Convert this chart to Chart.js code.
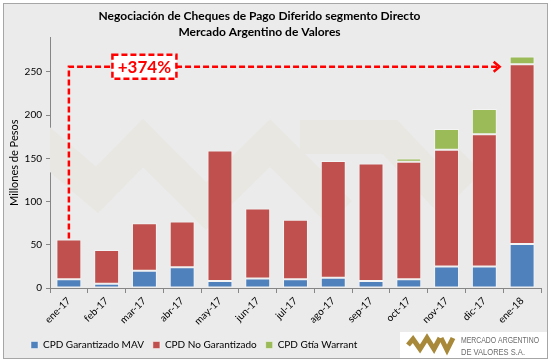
<!DOCTYPE html>
<html>
<head>
<meta charset="utf-8">
<script src="https://cdn.jsdelivr.net/npm/chart.js@4"></script>
<style>
  html, body { margin: 0; padding: 0; background: #fff; }
  canvas { display: block; }
</style>
</head>
<body>
<canvas id="myChart" width="551" height="362"></canvas>
<script>
const categories = ['ene-17', 'feb-17', 'mar-17', 'abr-17', 'may-17', 'jun-17', 'jul-17', 'ago-17', 'sep-17', 'oct-17', 'nov-17', 'dic-17', 'ene-18'];
const garantizadoMAV = [10, 5, 20, 24, 8, 11, 10, 12, 8, 10, 25, 25, 51];
const noGarantizado = [46, 39, 55, 53, 151, 81, 69, 135, 136, 136, 135, 153, 208];
const gtiaWarrant = [null, null, null, null, null, null, null, null, null, 4, 24, 29, 9];
const yTicks = [0, 50, 100, 150, 200, 250];
const variacion = '+374%';

const FONT = 'Lato, "Liberation Sans", sans-serif';

// fondo gris + marco
const bgPlugin = {
	id: 'bg',
	beforeDraw(chart) {
		const c = chart.ctx;
		c.save();
		c.fillStyle = '#fff';
		c.fillRect(0, 0, chart.width, chart.height);
		c.fillStyle = '#ebebeb';
		c.fillRect(3.5, 3.5, chart.width - 7, chart.height - 7);
		c.strokeStyle = '#a6a6a6';
		c.lineWidth = 1;
		c.strokeRect(3.5, 3.5, chart.width - 7, chart.height - 7);
		c.restore();
	},
	afterLayout(chart) {
		chart.legend.left += 14;
		chart.legend.right += 14;
		chart.titleBlock.left -= 15;
		chart.titleBlock.right -= 15;
	},
	// marca de agua (logo tenue)
	beforeDatasetsDraw(chart) {
		const c = chart.ctx, a = chart.chartArea;
		c.save();
		c.beginPath();
		c.rect(a.left, a.top, a.right - a.left, a.bottom - a.top);
		c.clip();
		c.strokeStyle = '#e8e7e2';
		c.lineWidth = 34;
		c.lineJoin = 'miter';
		c.beginPath();
		c.moveTo(20, 124);
		c.lineTo(97, 190);
		c.lineTo(143, 143);
		c.lineTo(206, 206);
		c.lineTo(270, 143);
		c.lineTo(340, 213);
		c.stroke();
		c.beginPath();
		c.moveTo(300, 137);
		c.lineTo(390, 137);
		c.lineTo(440, 190);
		c.lineTo(470, 160);
		c.stroke();
		c.restore();
	}
};

// flecha y recuadro de variación
const annotationPlugin = {
	id: 'variacion',
	afterDatasetsDraw(chart) {
		const c = chart.ctx, xs = chart.scales.x, ys = chart.scales.y;
		const total0 = garantizadoMAV[0] + noGarantizado[0] + (gtiaWarrant[0] || 0);
		const x0 = xs.getPixelForValue(0);
		const y0 = ys.getPixelForValue(total0) - 1;
		const yl = ys.getPixelForValue(256);
		const last = chart.getDatasetMeta(0).data[categories.length - 1];
		const x1 = last.x - last.width / 2 - 10;
		c.save();
		c.strokeStyle = '#ff0000';
		c.lineWidth = 2.5;
		c.setLineDash([6, 3]);
		c.beginPath();
		c.moveTo(x0, y0);
		c.lineTo(x0, yl);
		c.lineTo(x1, yl);
		c.stroke();
		c.setLineDash([]);
		c.beginPath();
		c.moveTo(x1 - 6, yl - 5);
		c.lineTo(x1, yl);
		c.lineTo(x1 - 6, yl + 5);
		c.stroke();
		// recuadro
		const bx = xs.getPixelForValue(2);
		const bw = 64, bh = 24;
		c.fillStyle = '#fff';
		c.fillRect(bx - bw / 2, yl - bh / 2, bw, bh);
		c.setLineDash([6, 3]);
		c.strokeRect(bx - bw / 2, yl - bh / 2, bw, bh);
		c.fillStyle = '#ff0000';
		c.font = 'bold 17px ' + FONT;
		c.textAlign = 'center';
		c.textBaseline = 'middle';
		c.fillText(variacion, bx, yl + 1);
		c.restore();
	},
	afterDraw(chart) {
		// logo MAV
		const c = chart.ctx;
		c.save();
		c.fillStyle = '#fff';
		c.fillRect(400, 332, 147, 26);
		c.strokeStyle = '#a8893a';
		c.lineWidth = 5;
		c.lineJoin = 'miter';
		c.beginPath();
		c.moveTo(408, 345);
		c.lineTo(413, 339);
		c.lineTo(420, 349);
		c.lineTo(427, 338);
		c.lineTo(434, 349);
		c.lineTo(440, 338);
		c.stroke();
		c.beginPath();
		c.moveTo(441, 338);
		c.lineTo(447, 350);
		c.lineTo(453, 338);
		c.stroke();
		c.fillStyle = '#6b6b6b';
		c.font = '9px "Liberation Sans Narrow", "Liberation Sans", sans-serif';
		c.textAlign = 'left';
		c.textBaseline = 'middle';
		c.fillText('MERCADO ARGENTINO', 461, 341, 78);
		c.fillText('DE VALORES S.A.', 461, 353, 64);
		c.restore();
	}
};

const ctx = document.getElementById('myChart').getContext('2d');
let myChart = new Chart(ctx, {
	type: 'bar',
	data: {
		labels: categories,
		datasets: [
			{ label: 'CPD Garantizado MAV', data: garantizadoMAV, backgroundColor: '#4f81bd' },
			{ label: 'CPD No Garantizado', data: noGarantizado, backgroundColor: '#c0504d' },
			{ label: 'CPD Gtía Warrant', data: gtiaWarrant, backgroundColor: '#9bbb59' }
		]
	},
	options: {
		responsive: false,
		animation: false,
		layout: { padding: { top: 3, left: 8, right: 10, bottom: 2 } },
		datasets: {
			bar: {
				barPercentage: 0.66,
				categoryPercentage: 1,
				borderWidth: 1,
				borderColor: 'rgba(255,255,255,0.45)',
				borderSkipped: false
			}
		},
		plugins: {
			tooltip: { enabled: false },
			title: {
				display: true,
				text: ['Negociación de Cheques de Pago Diferido segmento Directo', 'Mercado Argentino de Valores'],
				color: '#000',
				font: { family: FONT, size: 12, weight: 'bold', lineHeight: 1.35 },
				padding: { top: 5, bottom: -3 }
			},
			legend: {
				position: 'bottom',
				align: 'start',
				labels: {
					boxWidth: 7,
					boxHeight: 7,
					padding: 9,
					color: '#000',
					font: { family: FONT, size: 10 }
				}
			}
		},
		scales: {
			x: {
				stacked: true,
				grid: { drawOnChartArea: false, tickLength: 5, color: '#868686' },
				border: { color: '#868686' },
				ticks: { minRotation: 45, maxRotation: 45, padding: 2, color: '#000', font: { family: FONT, size: 10 } },
				afterFit: s => { s.height = 43; }
			},
			y: {
				stacked: true,
				min: 0,
				max: 290,
				grid: { drawOnChartArea: false, tickLength: 4, color: '#868686' },
				border: { color: '#868686' },
				ticks: { stepSize: 50, padding: 4, color: '#000', font: { family: FONT, size: 10 } },
				afterBuildTicks: s => { s.ticks = yTicks.map(v => ({ value: v })); },
				title: { display: true, text: 'Millones de Pesos', color: '#000', font: { family: FONT, size: 11 }, padding: { top: 0, bottom: 0 } },
				afterFit: s => { s.width = 42; }
			}
		}
	},
	plugins: [bgPlugin, annotationPlugin]
});
</script>
</body>
</html>
